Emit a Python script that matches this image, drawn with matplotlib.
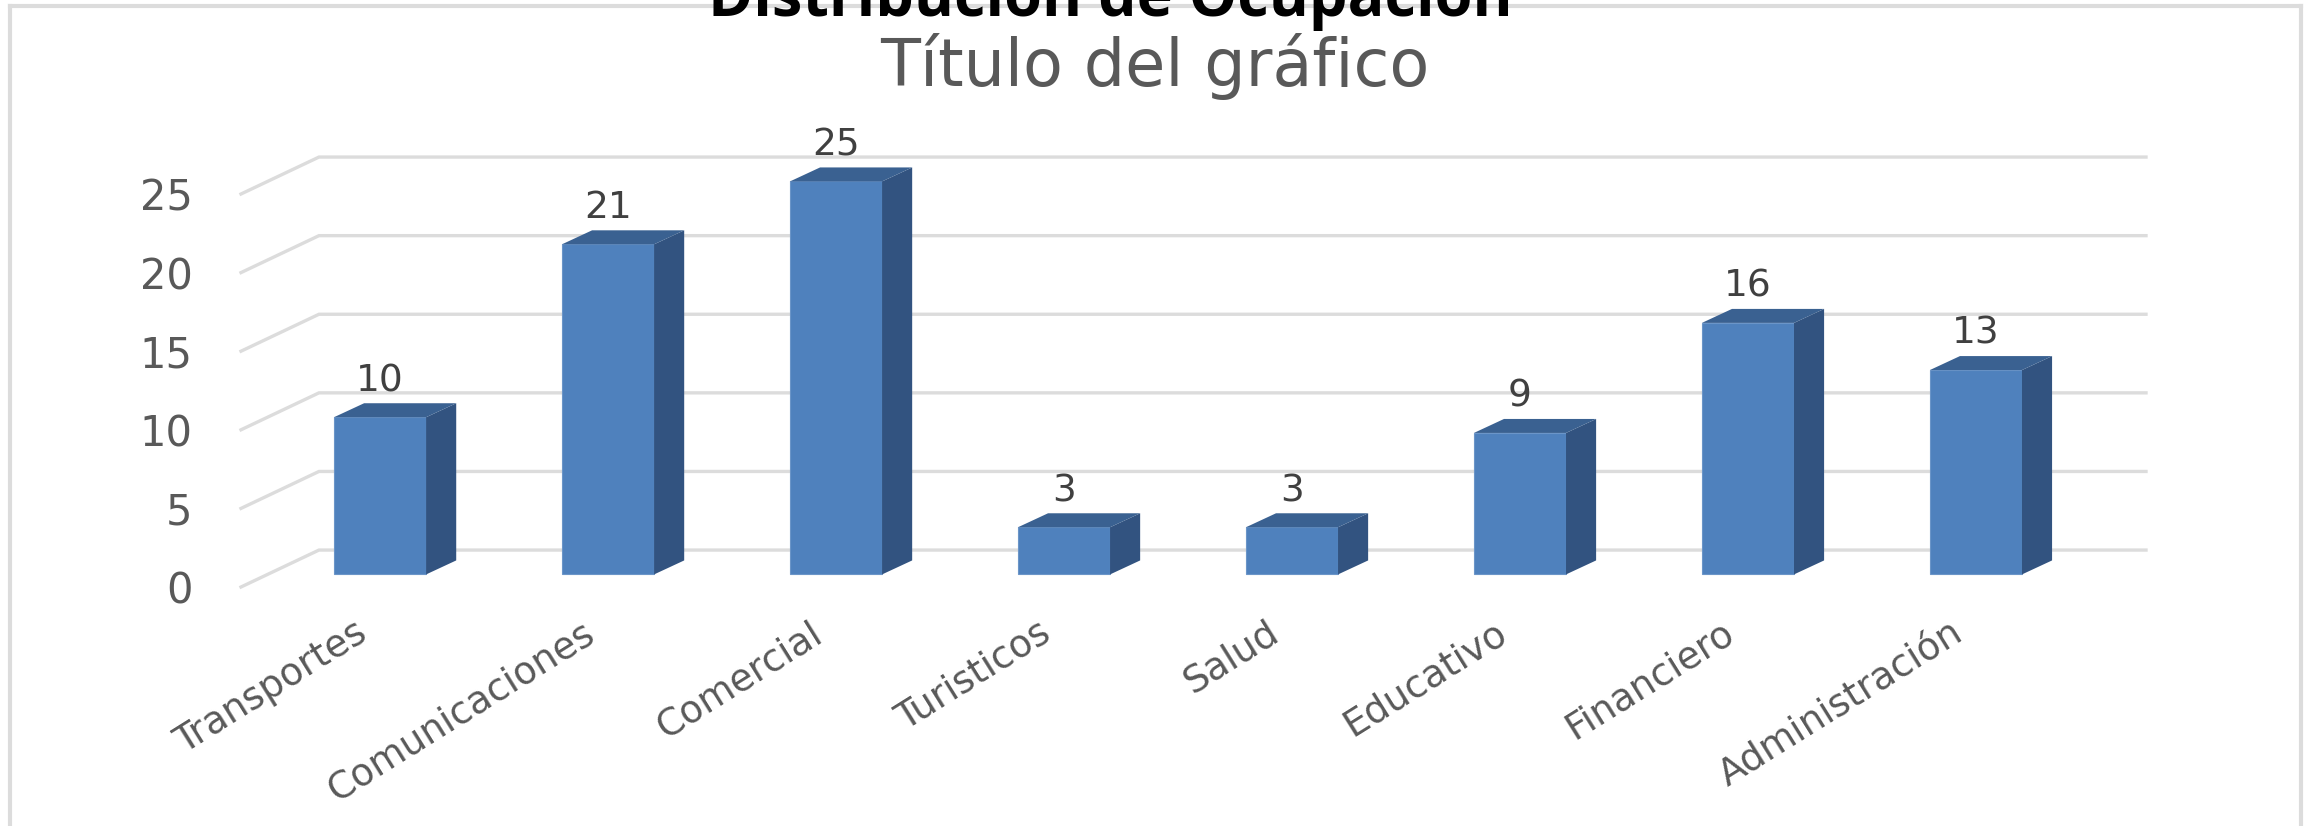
import matplotlib
matplotlib.use('Agg')
import matplotlib.pyplot as plt
from matplotlib.lines import Line2D
from matplotlib.patches import Polygon
from matplotlib.transforms import ScaledTranslation

categories = ['Transportes', 'Comunicaciones', 'Comercial', 'Turisticos', 'Salud', 'Educativo', 'Financiero', 'Administración']
values = [10, 21, 25, 3, 3, 9, 16, 13]
y_ticks = [0, 5, 10, 15, 20, 25]

W, H = 2306, 826

# colores
FRONT = '#4f81bd'
EDGE = '#6b95c8'
SIDE = '#325380'
TOP = '#3a6191'
GRID = '#dcdcdc'
LABEL = '#595959'
DATA = '#404040'

# profundidad del efecto 3D, en unidades de los ejes
BAR_W = 0.404
BAR_LIFT = 0.8
BAR_DX = 0.132
BAR_DY = 0.89
WALL_DX = 0.342
WALL_DY = 2.35

fig = plt.figure(figsize=(W / 100, H / 100), dpi=100, facecolor='white')
ax = fig.add_axes([241 / W, 1 - 587 / H, (2146 - 241) / W, (587 - 194) / H])
ax.set_xlim(-0.61, 7.746)
ax.set_ylim(0, 25)
for s in ax.spines.values():
    s.set_visible(False)
ax.patch.set_visible(False)

xmin, xmax = ax.get_xlim()
for v in y_ticks:
    ax.plot([xmin, xmin + WALL_DX, xmax], [v, v + WALL_DY, v + WALL_DY],
            color=GRID, lw=2.4, clip_on=False, zorder=1, solid_joinstyle='miter')

xs = list(range(len(categories)))
ax.bar(xs, values, width=BAR_W, bottom=BAR_LIFT, color=FRONT, edgecolor=EDGE, linewidth=0.8, clip_on=False, zorder=3)
for x, v in zip(xs, values):
    r = x + BAR_W / 2
    l = x - BAR_W / 2
    t = v + BAR_LIFT
    ax.add_patch(Polygon([(r, BAR_LIFT), (r + BAR_DX, BAR_LIFT + BAR_DY), (r + BAR_DX, t + BAR_DY), (r, t)],
                         closed=True, fc=SIDE, ec='none', clip_on=False, zorder=3))
    ax.add_patch(Polygon([(l, t), (l + BAR_DX, t + BAR_DY), (r + BAR_DX, t + BAR_DY), (r, t)],
                         closed=True, fc=TOP, ec='none', clip_on=False, zorder=3))
    ax.annotate(str(v), (x, t + BAR_DY), xytext=(0, 16), textcoords='offset points',
                ha='center', va='center', fontsize=27, color=DATA, family='DejaVu Sans',
                annotation_clip=False)

ax.set_yticks(y_ticks)
ax.set_xticks(xs)
ax.set_xticklabels(categories, rotation=32, ha='right', rotation_mode='anchor')
ax.tick_params(axis='y', length=0, pad=35, labelsize=30, labelcolor=LABEL)
ax.tick_params(axis='x', length=0, pad=20, labelsize=27, labelcolor=LABEL)

# las etiquetas rotadas terminan un poco a la izquierda del centro de la barra
shift = ScaledTranslation(-26 / 100, 0, fig.dpi_scale_trans)
for lab in ax.get_xticklabels():
    lab.set_transform(lab.get_transform() + shift)

# marco
for xa, ya in [([10, 10], [H, 6]), ([10, 2301], [6, 6]), ([2301, 2301], [6, H])]:
    fig.add_artist(Line2D([p / W for p in xa], [1 - p / H for p in ya], color=GRID, lw=3, zorder=0))

fig.text(1155 / W, 1 - 86 / H, 'Título del gráfico', ha='center', va='baseline',
         fontsize=47, color=LABEL, family='DejaVu Sans')
fig.text(1110 / W, 1 - 16 / H, 'Distribución de Ocupación', ha='center', va='baseline',
         fontsize=44, fontweight='bold', color='black', family='Open Sans', zorder=5)

fig.savefig('out.png', dpi=100)
